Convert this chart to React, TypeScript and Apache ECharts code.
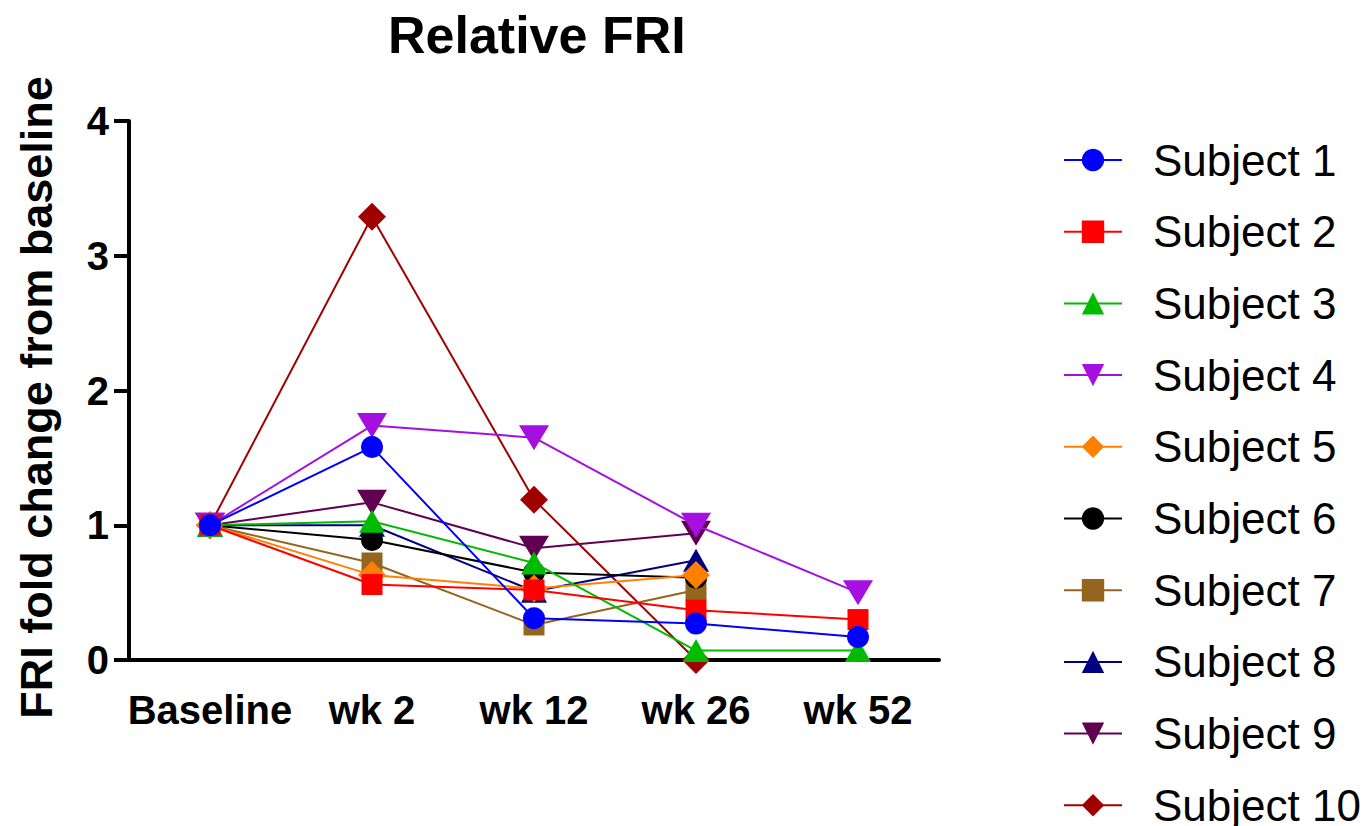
import React, { useEffect, useRef } from "react";
import * as echarts from "echarts";

const categories = ["Baseline", "wk 2", "wk 12", "wk 26", "wk 52"];
const seriesNames = [
  "Subject 1", "Subject 2", "Subject 3", "Subject 4", "Subject 5",
  "Subject 6", "Subject 7", "Subject 8", "Subject 9", "Subject 10",
];
const subject1 = [1, 1.58, 0.31, 0.27, 0.17];
const subject2 = [1, 0.56, 0.52, 0.37, 0.3];
const subject3 = [1, 1.03, 0.72, 0.07, 0.07];
const subject4 = [1, 1.74, 1.65, 1.0, 0.5];
const subject5 = [1, 0.63, 0.53, 0.63, null];
const subject6 = [1, 0.89, 0.65, 0.61, null];
const subject7 = [1, 0.72, 0.26, 0.52, null];
const subject8 = [1, 1.0, 0.51, 0.74, null];
const subject9 = [1, 1.17, 0.83, 0.94, null];
const subject10 = [1, 3.29, 1.19, 0, null];
const allData = [subject1, subject2, subject3, subject4, subject5, subject6, subject7, subject8, subject9, subject10];

const colors = ["#0000FF", "#FF0000", "#00BB00", "#A50FE0", "#FF8000", "#000000", "#93651E", "#000080", "#600050", "#A00000"];
const DOWN = "path://M0,0 L10,0 L5,9 Z";
const symbols = ["circle", "rect", "triangle", DOWN, "diamond", "circle", "rect", "triangle", DOWN, "diamond"];
const sizes: any[] = [22, 21, [26, 23], [30, 25], 28, 22, 21, [26, 23], [30, 25], 28];

export default function App() {
  const ref = useRef<HTMLDivElement>(null);
  useEffect(() => {
    const chart = echarts.init(ref.current!, null, { renderer: "svg" });
    const font = "'Liberation Sans', Arial, sans-serif";
    chart.setOption({
      animation: false,
      backgroundColor: "#ffffff",
      title: {
        text: "Relative FRI",
        left: 383,
        top: 4,
        textStyle: { fontFamily: font, fontSize: 52, fontWeight: "bold", color: "#000" },
      },
      legend: {
        orient: "vertical",
        left: 1063,
        top: 138,
        height: 720,
        padding: 0,
        itemWidth: 58,
        itemHeight: 28,
        itemGap: 27.7,
        data: seriesNames,
        textStyle: { fontFamily: font, fontSize: 44, color: "#000", lineHeight: 44, padding: [0, 0, 0, 26] },
      },
      grid: { left: 129, right: 432, top: 121, bottom: 166 },
      xAxis: {
        type: "category",
        data: categories,
        boundaryGap: true,
        axisLine: { lineStyle: { color: "#000", width: 4 } },
        axisTick: { alignWithLabel: true, length: 14, lineStyle: { color: "#000", width: 4 } },
        axisLabel: { interval: 0, fontFamily: font, fontSize: 40, fontWeight: "bold", color: "#000", margin: 30 },
      },
      yAxis: {
        type: "value",
        min: 0,
        max: 4,
        interval: 1,
        name: "FRI fold change from baseline",
        nameLocation: "middle",
        nameGap: 70,
        nameTextStyle: { fontFamily: font, fontSize: 45, fontWeight: "bold", color: "#000", padding: [0, 0, 0, -14] },
        splitLine: { show: false },
        axisLine: { show: true, lineStyle: { color: "#000", width: 4 } },
        axisTick: { show: true, length: 15, lineStyle: { color: "#000", width: 4 } },
        axisLabel: { fontFamily: font, fontSize: 40, fontWeight: "bold", color: "#000", margin: 20 },
      },
      series: seriesNames.map((name, i) => ({
        name,
        type: "line",
        data: allData[i],
        z: 20 - i,
        symbol: symbols[i],
        symbolSize: sizes[i],
        color: colors[i],
        itemStyle: { color: colors[i] },
        lineStyle: { color: colors[i], width: 2 },
        connectNulls: false,
      })),
    });
    return () => chart.dispose();
  }, []);
  return <div ref={ref} style={{ position: "fixed", left: 0, top: 0, width: 1371, height: 826 }} />;
}
